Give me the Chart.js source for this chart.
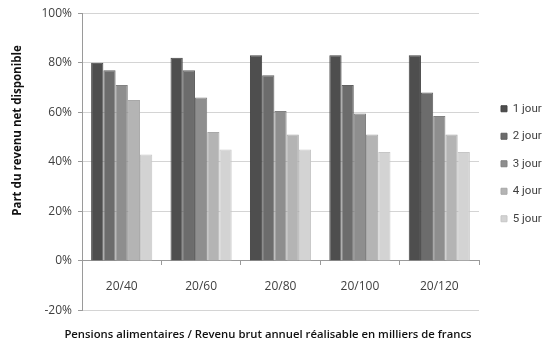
<!DOCTYPE html>
<html>
<head>
<meta charset="utf-8">
<script src="https://cdn.jsdelivr.net/npm/chart.js@4.4.1/dist/chart.umd.min.js"></script>
<style>
    html, body { margin: 0; padding: 0; background: #fff; }
    #wrap { width: 542px; height: 347px; position: relative; }
</style>
</head>
<body>
<div id="wrap"><canvas id="chart"></canvas></div>
<script>
// --- Data ---
const categories = ['20/40', '20/60', '20/80', '20/100', '20/120'];
const seriesNames = ['1 jour', '2 jour', '3 jour', '4 jour', '5 jour'];
const jour1 = [80, 82, 83, 83, 83];
const jour2 = [77, 77, 75, 71, 68];
const jour3 = [71, 66, 60.5, 59.5, 58.5];
const jour4 = [65, 52, 51, 51, 51];
const jour5 = [43, 45, 45, 44, 44];
const yTicks = [-20, 0, 20, 40, 60, 80, 100];

const seriesValues = [jour1, jour2, jour3, jour4, jour5];
const fills = ['#4e4e4e', '#6c6c6c', '#8e8e8e', '#b4b4b4', '#d3d3d3'];
const edges = ['#424242', '#606060', '#818181', '#a8a8a8', '#c6c6c6'];

const font = "'Open Sans', 'DejaVu Sans', sans-serif";
const yTitle = 'Part du revenu net disponible';

// Legend sits in the right margin; the bottom title is centred on the whole canvas
const boxPlacer = {
    id: 'boxPlacer',
    beforeDraw(chart) {
        const lg = chart.legend;
        const w = lg.width, h = lg.height;
        lg.left = 485;
        lg.right = lg.left + w;
        lg.top = 87;
        lg.bottom = lg.top + h;

        const t = chart.titleBlock;
        t.left = 0;
        t.right = 536;
        t.width = 536;
    }
};

// Vertical axis title, drawn a bit above the middle of the axis
const yTitlePlugin = {
    id: 'yTitle',
    afterDraw(chart) {
        const c = chart.ctx;
        c.save();
        c.translate(18, 130.5);
        c.rotate(-Math.PI / 2);
        c.font = "bold 11.5px " + font;
        c.fillStyle = '#111';
        c.textAlign = 'center';
        c.textBaseline = 'middle';
        c.fillText(yTitle, 0, 0);
        c.restore();
    }
};

const ctx = document.getElementById('chart').getContext('2d');
new Chart(ctx, {
    type: 'bar',
    data: {
        labels: categories,
        datasets: seriesNames.map((name, i) => ({
            label: name,
            data: seriesValues[i],
            backgroundColor: fills[i],
            borderColor: edges[i],
            borderWidth: 1,
            categoryPercentage: 0.77,
            barPercentage: 1
        }))
    },
    plugins: [boxPlacer, yTitlePlugin],
    options: {
        responsive: true,
        maintainAspectRatio: false,
        animation: false,
        layout: { padding: { top: 12, right: 63, left: 0, bottom: 0 } },
        scales: {
            x: {
                position: { y: 0 },
                grid: {
                    drawOnChartArea: false,
                    drawTicks: true,
                    tickLength: 4,
                    color: '#9a9a9a'
                },
                border: { color: '#9a9a9a' },
                ticks: {
                    color: '#404040',
                    font: { family: font, size: 12 },
                    padding: 14
                }
            },
            y: {
                min: -20,
                max: 100,
                afterBuildTicks: (scale) => {
                    scale.ticks = yTicks.map(v => ({ value: v }));
                },
                afterFit: (scale) => { scale.width = 82; },
                grid: {
                    color: '#d4d4d4',
                    tickColor: '#9a9a9a',
                    tickLength: 4
                },
                border: { color: '#9a9a9a' },
                ticks: {
                    color: '#404040',
                    font: { family: font, size: 12 },
                    padding: 6,
                    callback: (v) => v + '%'
                }
            }
        },
        plugins: {
            legend: {
                position: 'chartArea',
                align: 'start',
                labels: {
                    boxWidth: 6,
                    boxHeight: 6,
                    padding: 16,
                    color: '#404040',
                    font: { family: "Roboto, 'Open Sans', sans-serif", size: 11.5 }
                }
            },
            title: {
                display: true,
                position: 'bottom',
                text: 'Pensions alimentaires / Revenu brut annuel réalisable en milliers de francs',
                color: '#111',
                font: { family: font, size: 11.3, weight: '600' },
                padding: { top: 18, bottom: 5 }
            },
            tooltip: { enabled: false }
        }
    }
});
</script>
</body>
</html>
